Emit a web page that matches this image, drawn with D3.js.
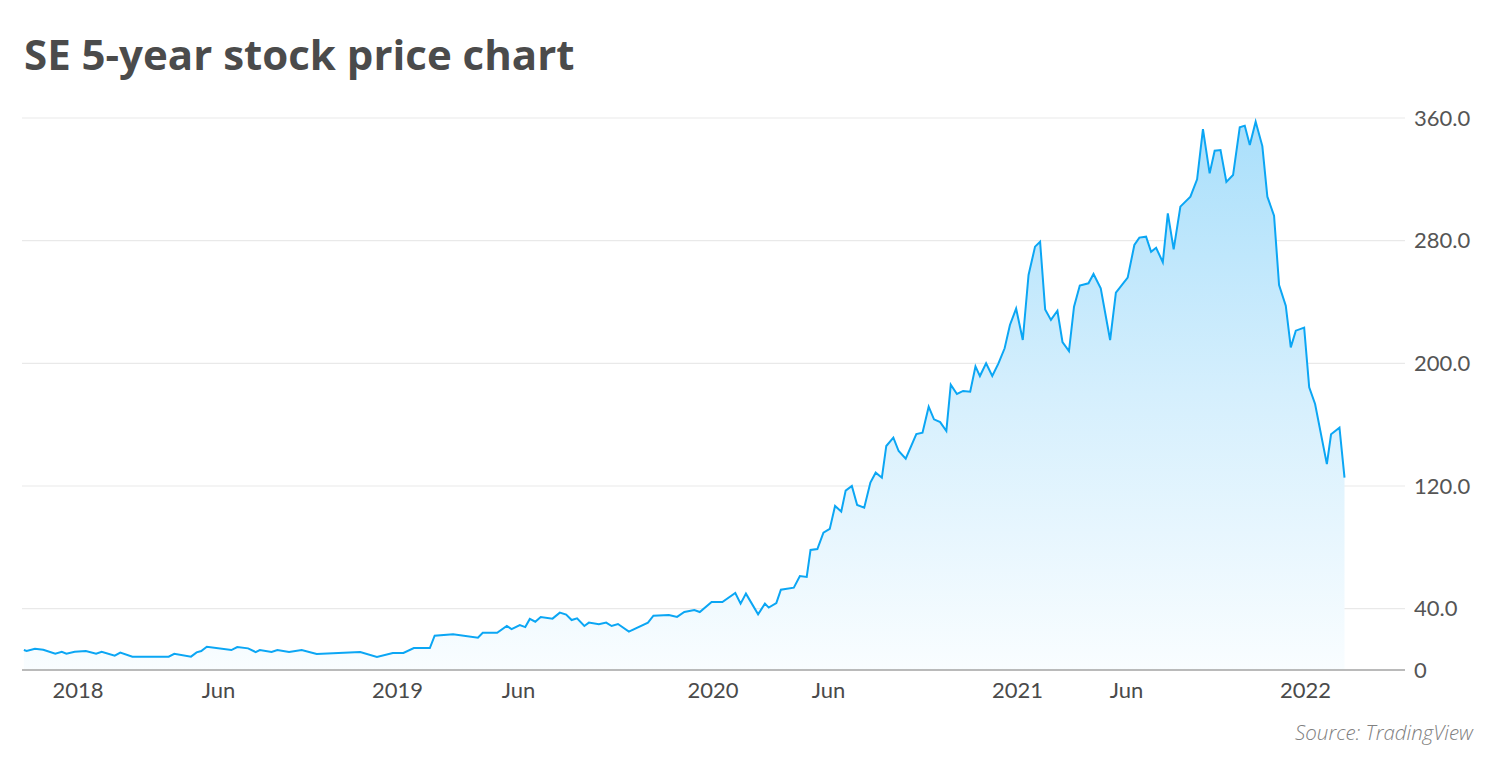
<!DOCTYPE html>
<html><head><meta charset="utf-8">
<script src="https://cdn.jsdelivr.net/npm/d3@7"></script>
<style>body{margin:0;background:#fff} svg{display:block}</style>
</head><body>
<svg id="chart" width="1500" height="762"></svg>
<script>
// ---- data (weekly-ish closes) ----
const dates = [
"2017-11-04","2017-11-07","2017-11-16","2017-11-25","2017-12-08","2017-12-15","2017-12-20","2017-12-29",
"2018-01-10","2018-01-21","2018-01-27","2018-02-10","2018-02-16","2018-03-01","2018-04-09","2018-04-15",
"2018-05-03","2018-05-09","2018-05-14","2018-05-20","2018-06-17","2018-06-24","2018-07-07","2018-07-16",
"2018-07-21","2018-08-04","2018-08-11","2018-08-25","2018-09-09","2018-09-27","2018-11-18","2018-12-08",
"2018-12-27","2019-01-09","2019-01-22","2019-02-11","2019-02-17","2019-03-12","2019-04-12","2019-04-18",
"2019-05-06","2019-05-18","2019-05-24","2019-06-03","2019-06-09","2019-06-14","2019-06-20","2019-06-26",
"2019-07-09","2019-07-17","2019-07-24","2019-07-30","2019-08-05","2019-08-13","2019-08-18","2019-08-29",
"2019-09-06","2019-09-12","2019-09-19","2019-10-01","2019-10-22","2019-10-28","2019-11-14","2019-11-23",
"2019-12-01","2019-12-12","2019-12-18","2019-12-31","2020-01-14","2020-01-31","2020-02-07","2020-02-14",
"2020-03-01","2020-03-10","2020-03-15","2020-03-25","2020-03-31","2020-04-17","2020-04-25","2020-05-04",
"2020-05-09","2020-05-18","2020-05-26","2020-06-03","2020-06-09","2020-06-16","2020-06-21","2020-06-28",
"2020-07-04","2020-07-12","2020-07-19","2020-07-25","2020-08-01","2020-08-06","2020-08-14","2020-08-20",
"2020-08-28","2020-09-09","2020-09-16","2020-09-23","2020-09-29","2020-10-06","2020-10-13","2020-10-18",
"2020-10-25","2020-11-01","2020-11-09","2020-11-15","2020-11-20","2020-11-27","2020-12-04","2020-12-11",
"2020-12-18","2020-12-24","2020-12-31","2021-01-09","2021-01-17","2021-01-26","2021-02-02","2021-02-09",
"2021-02-17","2021-02-26","2021-03-05","2021-03-14","2021-03-21","2021-03-29","2021-04-10","2021-04-17",
"2021-04-27","2021-05-10","2021-05-18","2021-06-03","2021-06-11","2021-06-17","2021-06-25","2021-07-01",
"2021-07-07","2021-07-15","2021-07-21","2021-07-28","2021-08-05","2021-08-17","2021-08-25","2021-09-01",
"2021-09-09","2021-09-15","2021-09-22","2021-09-29","2021-10-07","2021-10-15","2021-10-21","2021-10-27",
"2021-11-03","2021-11-11","2021-11-17","2021-11-25","2021-12-01","2021-12-09","2021-12-15","2021-12-21",
"2021-12-31","2022-01-06","2022-01-13","2022-01-27","2022-02-01","2022-02-11","2022-02-17"
];
const prices = [
13.0,12.4,13.9,13.2,10.6,11.9,10.6,11.9,
12.4,10.6,11.9,9.3,11.3,8.7,8.7,10.6,
8.7,11.5,12.4,15.2,13.0,15.0,14.1,11.7,
13.0,11.7,13.0,11.7,13.0,10.4,11.7,8.5,
11.1,11.1,14.3,14.3,22.4,23.3,21.1,24.3,
24.3,28.7,26.7,29.3,28.0,33.3,31.5,34.6,
33.5,37.4,36.1,32.6,33.7,28.7,30.9,29.8,
30.9,28.7,30.0,25.0,30.9,35.4,35.9,34.6,
37.8,39.1,37.8,44.3,44.3,50.2,43.3,49.8,
36.3,43.3,40.7,43.7,52.4,53.7,61.3,60.7,
78.3,78.9,89.6,92.0,107.0,103.3,117.0,120.0,
107.6,105.9,122.2,128.7,125.4,146.1,151.5,142.8,
137.8,153.9,154.8,171.7,163.5,161.7,155.9,186.1,
180.0,182.0,181.5,198.0,191.7,200.0,191.7,200.0,
209.8,225.0,235.7,215.2,257.6,276.1,279.3,235.2,
228.3,234.3,213.9,208.0,236.9,250.7,252.2,258.3,
249.0,215.2,246.1,255.9,277.2,282.0,282.6,272.8,
275.4,265.9,297.8,274.3,302.2,308.7,320.0,352.8,
323.9,338.7,339.1,318.3,322.8,353.9,355.0,342.4,
357.6,341.7,308.7,296.3,251.1,237.6,210.4,221.3,
223.3,184.4,173.5,134.3,153.7,158.0,125.4
];
const yTicks = [0, 40, 120, 200, 280, 360];
const xTickDates = ["2018-01-01","2018-06-01","2019-01-01","2019-06-01","2020-01-01","2020-06-01","2021-01-01","2021-06-01","2022-01-01"];
const xTickLabels = ["2018","Jun","2019","Jun","2020","Jun","2021","Jun","2022"];
const titleText = "SE 5-year stock price chart";
const sourceText = "Source: TradingView";

// ---- layout ----
const plotLeft = 22, plotRight = 1405, plotTop = 118, plotBottom = 670;
const parse = d3.timeParse("%Y-%m-%d");
const data = dates.map((d, i) => ({date: parse(d), value: prices[i]}));

// The source axis is spaced by trading sessions, so the time scale is piecewise.
const axisStartDate = "2017-11-02", axisEndDate = "2022-04-24";
const xStopPixels = [plotLeft, 77.5, 218, 397, 518, 712.5, 828, 1017, 1126, 1305, 1400];
const x = d3.scaleTime()
  .domain([axisStartDate, ...xTickDates, axisEndDate].map(parse))
  .range(xStopPixels);
const y = d3.scaleLinear().domain([0, 360]).range([plotBottom, plotTop]);

const svg = d3.select("#chart");
const font = "Lato, 'Open Sans', sans-serif";

const defs = svg.append("defs");
const grad = defs.append("linearGradient").attr("id", "fillGrad")
  .attr("gradientUnits", "userSpaceOnUse")
  .attr("x1", 0).attr("x2", 0).attr("y1", y(360)).attr("y2", y(0));
grad.append("stop").attr("offset", 0).attr("stop-color", "#a9dffb");
grad.append("stop").attr("offset", 0.5).attr("stop-color", "#d5effd");
grad.append("stop").attr("offset", 1).attr("stop-color", "#f9fdff");

// title
svg.append("text").attr("x", 24).attr("y", 70)
  .attr("font-family", "'Open Sans', sans-serif").attr("font-weight", 700).attr("font-size", 42)
  .attr("fill", "#4b4b4b").text(titleText);

// gridlines
svg.append("g").selectAll("line").data(yTicks.filter(t => t > 0)).join("line")
  .attr("x1", plotLeft).attr("x2", plotRight)
  .attr("y1", d => y(d)).attr("y2", d => y(d))
  .attr("stroke", "#e9e9e9").attr("stroke-width", 1.2);

// area + line
const area = d3.area().x(d => x(d.date)).y0(y(0)).y1(d => y(d.value));
svg.append("path").datum(data).attr("d", area).attr("fill", "url(#fillGrad)");
const line = d3.line().x(d => x(d.date)).y(d => y(d.value));
svg.append("path").datum(data).attr("d", line)
  .attr("fill", "none").attr("stroke", "#0ba6f4").attr("stroke-width", 2)
  .attr("stroke-linejoin", "miter");

// baseline
svg.append("line").attr("x1", plotLeft).attr("x2", plotRight)
  .attr("y1", y(0)).attr("y2", y(0)).attr("stroke", "#a3a3a3").attr("stroke-width", 1.5);

// y axis labels (right)
const yAxis = d3.axisRight(y).tickValues(yTicks).tickSize(0).tickPadding(0)
  .tickFormat(d => d === 0 ? "0" : d3.format(".1f")(d));
const gy = svg.append("g").attr("transform", `translate(1414,0)`).call(yAxis);
gy.select(".domain").remove();
gy.selectAll("text").attr("font-family", font).attr("font-size", 22).attr("fill", "#555")
  .attr("text-anchor", "start");

// x axis labels
const xAxis = d3.axisBottom(x).tickValues(xTickDates.map(parse)).tickSize(0).tickPadding(0)
  .tickFormat((d, i) => xTickLabels[i]);
const gx = svg.append("g").attr("transform", `translate(0,${plotBottom + 12})`).call(xAxis);
gx.select(".domain").remove();
gx.selectAll("text").attr("font-family", font).attr("font-size", 22).attr("fill", "#4a4a4a");

// source
svg.append("text").attr("x", 1473).attr("y", 740).attr("text-anchor", "end")
  .attr("font-family", "'Open Sans', sans-serif").attr("font-style", "italic")
  .attr("font-weight", 300).attr("font-size", 20.5)
  .attr("fill", "#808080").text(sourceText);
</script>
</body></html>
